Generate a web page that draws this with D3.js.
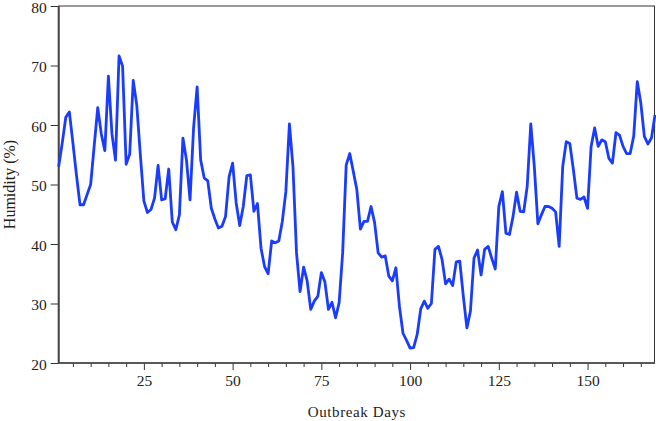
<!DOCTYPE html>
<html lang="en">
<head>
<meta charset="UTF-8">
<title>Humidity over outbreak days</title>
<script src="https://cdn.jsdelivr.net/npm/d3@7.9.0/dist/d3.min.js"></script>
<style>
    body { margin: 0; background: #fff; }
    svg { display: block; }
</style>
</head>
<body>
<svg id="chart" width="656" height="421"></svg>
<script>
    // --- data (day 1 .. 169) ---
    const firstDay = 1;
    const humidity = [
        53.0, 57.0, 61.3, 62.2, 57.0, 51.6, 46.6, 46.6, 48.3, 50.0,
        56.5, 62.9, 58.5, 55.7, 68.2, 58.5, 54.1, 71.6, 69.9, 53.4,
        55.1, 67.5, 63.3, 55.0, 47.2, 45.3, 45.8, 47.7, 53.2, 47.4,
        47.6, 52.6, 43.7, 42.4, 44.9, 57.8, 54.1, 47.4, 59.5, 66.4,
        54.1, 51.1, 50.6, 46.0, 44.2, 42.7, 43.0, 44.6, 51.3, 53.6,
        46.9, 43.1, 46.3, 51.5, 51.6, 45.5, 46.8, 39.3, 36.2, 35.0,
        40.5, 40.2, 40.5, 43.8, 48.8, 60.2, 53.0, 38.5, 32.0, 36.1,
        33.8, 29.0, 30.4, 31.2, 35.2, 33.6, 29.0, 30.2, 27.6, 30.1,
        38.5, 53.3, 55.2, 52.2, 49.1, 42.5, 43.8, 43.8, 46.3, 43.6,
        38.5, 37.8, 38.0, 34.6, 33.8, 36.0, 29.5, 25.0, 23.8, 22.5,
        22.6, 24.8, 29.1, 30.4, 29.2, 30.0, 39.1, 39.6, 37.4, 33.3,
        34.1, 33.0, 37.0, 37.1, 31.2, 25.9, 28.7, 37.6, 39.0, 34.8,
        39.1, 39.6, 37.6, 35.8, 46.3, 48.8, 41.8, 41.6, 44.6, 48.7,
        45.5, 45.4, 49.7, 60.2, 53.0, 43.4, 44.9, 46.3, 46.3, 46.0,
        45.4, 39.6, 53.0, 57.2, 56.9, 52.5, 47.7, 47.5, 47.9, 46.0,
        56.4, 59.5, 56.4, 57.5, 57.2, 54.4, 53.6, 58.7, 58.3, 56.4,
        55.2, 55.2, 58.1, 67.3, 63.7, 58.1, 56.8, 57.8, 61.7
    ];
    const xMajorTicks = [25, 50, 75, 100, 125, 150];
    const yTicks = [20, 30, 40, 50, 60, 70, 80];

    const points = humidity.map((v, i) => ({ day: firstDay + i, value: v }));

    const width = 656, height = 421;
    const margin = { top: 6, right: 1, bottom: 58, left: 58.7 };
    const serif = "'Liberation Serif', 'DejaVu Serif', serif";

    const svg = d3.select("#chart");

    const x = d3.scaleLinear()
        .domain([firstDay, firstDay + humidity.length - 1])
        .range([margin.left, width - margin.right]);

    const y = d3.scaleLinear()
        .domain([20, 80])
        .range([height - margin.bottom, margin.top]);

    // minor ticks every 5 days
    const minorTicks = d3.range(5, 170, 5).filter(d => !xMajorTicks.includes(d));

    function styleAxis(g) {
        g.select(".domain").remove();
        g.attr("font-family", serif).attr("font-size", 15.5);
        g.selectAll(".tick line").attr("stroke", "#333");
        g.selectAll(".tick text").attr("fill", "#222");
    }

    svg.append("g")
        .attr("transform", `translate(0,${y(20)})`)
        .call(d3.axisBottom(x).tickValues(minorTicks).tickSize(4).tickFormat(""))
        .call(styleAxis);

    svg.append("g")
        .attr("transform", `translate(0,${y(20)})`)
        .call(d3.axisBottom(x).tickValues(xMajorTicks).tickSize(7).tickPadding(5).tickFormat(d3.format("d")))
        .call(styleAxis);

    svg.append("g")
        .attr("transform", `translate(${x(firstDay)},0)`)
        .call(d3.axisLeft(y).tickValues(yTicks).tickSize(8).tickPadding(4))
        .call(styleAxis)
        .call(g => g.selectAll(".tick text").attr("dy", "0.4em"));

    // frame
    const x0 = x.range()[0], x1 = x.range()[1], y0 = y.range()[0], y1 = y.range()[1];
    svg.append("rect")
        .attr("x", x0).attr("y", y1)
        .attr("width", x1 - x0 - 0.5).attr("height", y0 - y1)
        .attr("fill", "none").attr("stroke", "#333").attr("stroke-width", 1);
    svg.append("line").attr("x1", x0).attr("x2", x0).attr("y1", y1).attr("y2", y0)
        .attr("stroke", "#444").attr("stroke-width", 2);
    svg.append("line").attr("x1", x0).attr("x2", x1).attr("y1", y0).attr("y2", y0)
        .attr("stroke", "#444").attr("stroke-width", 1.6);

    // line
    const line = d3.line().x(d => x(d.day)).y(d => y(d.value));
    svg.append("path")
        .datum(points)
        .attr("fill", "none")
        .attr("stroke", "#1a3cff")
        .attr("stroke-width", 2.8)
        .attr("stroke-linejoin", "round")
        .attr("d", line);

    // axis titles
    svg.append("text")
        .attr("x", (x0 + x1) / 2)
        .attr("y", 417)
        .attr("text-anchor", "middle")
        .attr("font-family", serif)
        .attr("font-size", 15)
        .attr("letter-spacing", "0.6px")
        .attr("fill", "#222")
        .text("Outbreak Days");

    svg.append("text")
        .attr("transform", `translate(15,${(y0 + y1) / 2}) rotate(-90)`)
        .attr("text-anchor", "middle")
        .attr("font-family", serif)
        .attr("font-size", 16)
        .attr("fill", "#222")
        .text("Humidity (%)");
</script>
</body>
</html>
